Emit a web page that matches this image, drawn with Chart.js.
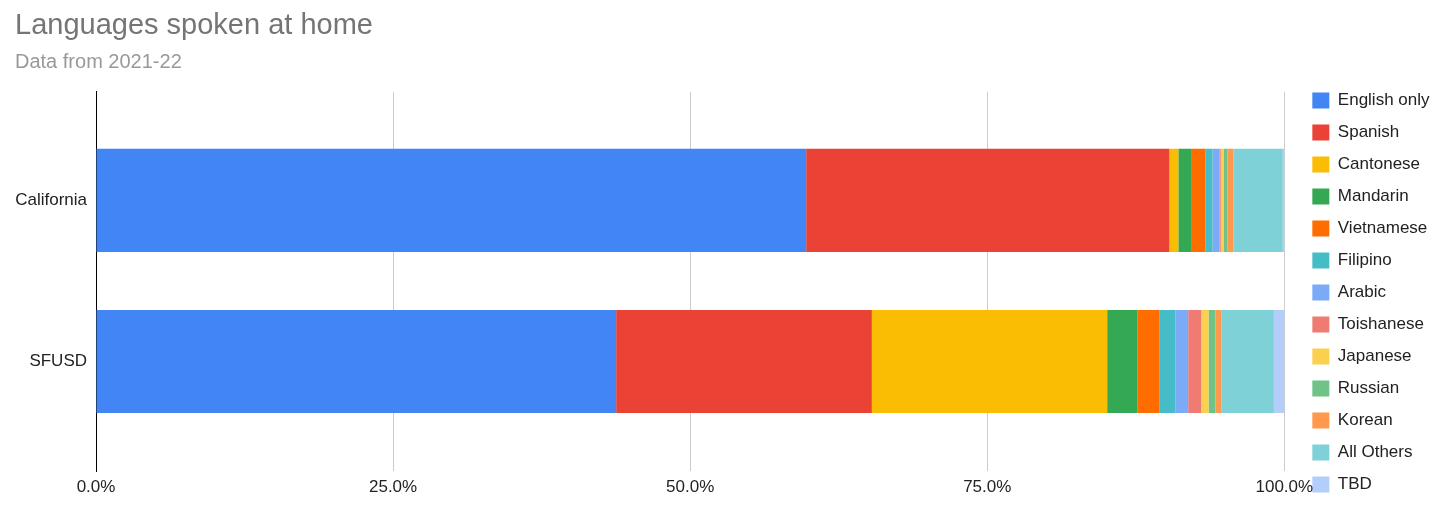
<!DOCTYPE html>
<html>
<head>
<meta charset="utf-8">
<script src="https://cdn.jsdelivr.net/npm/chart.js@4.4.0/dist/chart.umd.min.js"></script>
<style>
  html, body { margin: 0; padding: 0; background: #fff; }
  #wrap { width: 1456px; height: 514px; }
</style>
</head>
<body>
<div id="wrap"><canvas id="langChart" width="1456" height="514"></canvas></div>
<script>
// share of students by language spoken at home, in percent
const regions = ['California', 'SFUSD'];
const languages = ['English only', 'Spanish', 'Cantonese', 'Mandarin', 'Vietnamese', 'Filipino',
  'Arabic', 'Toishanese', 'Japanese', 'Russian', 'Korean', 'All Others', 'TBD'];
const california = [59.76, 30.56, 0.76, 1.07, 1.2, 0.61, 0.59, 0.1, 0.23, 0.34, 0.48, 4.17, 0.15];
const sfusd = [43.77, 21.52, 19.8, 2.53, 1.85, 1.35, 1.09, 1.09, 0.62, 0.59, 0.48, 4.43, 0.89];
const xTicks = [0, 25, 50, 75, 100];

const colors = ['#4285F4', '#EA4335', '#FBBC04', '#34A853', '#FF6D01', '#46BDC6',
  '#7BAAF7', '#F07B72', '#FCD04F', '#71C287', '#FF994D', '#7ED1D7', '#B3CEFB'];

const font = 'Arial, "Liberation Sans", sans-serif';

// push the legend a bit away from the plot, like the sheets chart
const legendNudge = {
  id: 'legendNudge',
  afterLayout(chart) {
    if (chart.legend) { chart.legend.left += 13; chart.legend.right += 13; }
  }
};

const datasets = languages.map((name, i) => ({
  label: name,
  data: [{ x: california[i], y: 0 }, { x: sfusd[i], y: 1 }],
  backgroundColor: colors[i],
  borderWidth: 0,
  barPercentage: 0.64,
  categoryPercentage: 1
}));

new Chart(document.getElementById('langChart').getContext('2d'), {
  type: 'bar',
  data: { datasets },
  plugins: [legendNudge],
  options: {
    indexAxis: 'y',
    responsive: false,
    animation: false,
    layout: { padding: { left: 15, right: 29.5, top: 0, bottom: 6 } },
    scales: {
      x: {
        type: 'linear',
        stacked: true,
        min: 0,
        max: 100,
        afterBuildTicks: s => { s.ticks = xTicks.map(v => ({ value: v })); },
        afterFit: s => { s.height = 37; },
        grid: { color: '#cccccc', drawTicks: false },
        border: { display: false },
        ticks: {
          padding: 6,
          color: '#222',
          font: { family: font, size: 17 },
          callback: v => v.toFixed(1) + '%'
        }
      },
      y: {
        type: 'linear',
        stacked: true,
        reverse: true,
        offset: false,
        min: -0.674,
        max: 1.68,
        afterBuildTicks: s => { s.ticks = regions.map((r, i) => ({ value: i })); },
        afterFit: s => { s.width = 81; },
        grid: { display: false, drawTicks: false, offset: false },
        border: { display: true, color: '#000', width: 1 },
        ticks: {
          padding: 9,
          color: '#222',
          font: { family: font, size: 17 },
          callback: v => regions[v]
        }
      }
    },
    plugins: {
      title: {
        display: true,
        text: 'Languages spoken at home',
        align: 'start',
        color: '#757575',
        font: { family: font, size: 29, weight: 'normal' },
        padding: { top: 9, bottom: 0 }
      },
      subtitle: {
        display: true,
        text: 'Data from 2021-22',
        align: 'start',
        color: '#999999',
        font: { family: font, size: 20, weight: 'normal' },
        padding: { top: 7, bottom: 17 }
      },
      legend: {
        position: 'right',
        align: 'end',
        labels: {
          boxWidth: 17,
          boxHeight: 16,
          padding: 15,
          color: '#222',
          font: { family: font, size: 17 }
        }
      },
      tooltip: {
        callbacks: { label: c => `${c.dataset.label}: ${c.raw.x.toFixed(1)}%` }
      }
    }
  }
});
</script>
</body>
</html>
